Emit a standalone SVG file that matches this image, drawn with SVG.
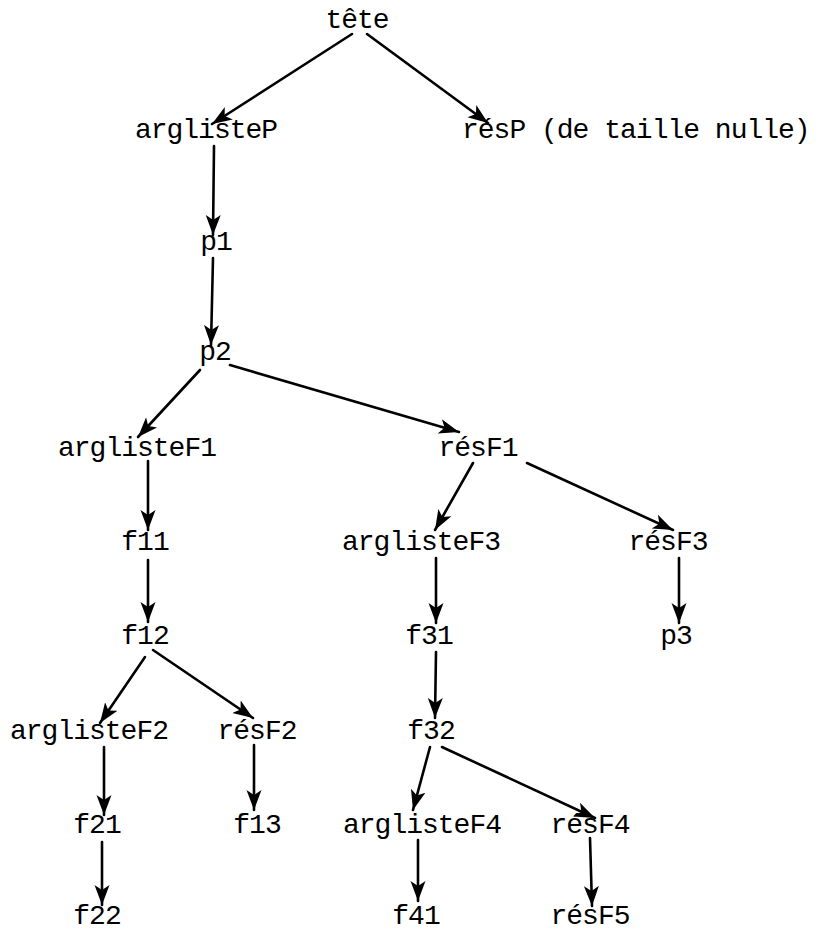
<svg xmlns="http://www.w3.org/2000/svg" width="818" height="932" viewBox="0 0 818 932">
<style>
.t{font-family:"Liberation Mono","Courier New",monospace;font-size:28px;letter-spacing:-1px;fill:#000;text-anchor:middle}
.s{text-anchor:start}
.e{fill:none;stroke:#000;stroke-width:2.6;stroke-linecap:round;marker-end:url(#ah)}
</style>
<defs>
<marker id="ah" markerUnits="userSpaceOnUse" markerWidth="22" markerHeight="18" viewBox="0 0 22 18" refX="20" refY="9" orient="auto">
<path d="M0,1.5 L20,9 L0,16.5 L5,9 z" fill="#000"/>
</marker>
</defs>
<rect width="818" height="932" fill="#fff"/>
<g id="connectors">
<line class="e" x1="352" y1="34" x2="212" y2="124"/>
<line class="e" x1="367" y1="34" x2="488" y2="123"/>
<line class="e" x1="214" y1="146" x2="213" y2="235"/>
<line class="e" x1="213" y1="258" x2="211" y2="345"/>
<line class="e" x1="200" y1="370" x2="138" y2="437"/>
<line class="e" x1="230" y1="365" x2="459" y2="432"/>
<line class="e" x1="148" y1="461" x2="148" y2="530"/>
<line class="e" x1="148" y1="560" x2="148" y2="622"/>
<line class="e" x1="473" y1="463" x2="435" y2="530"/>
<line class="e" x1="527" y1="463" x2="673" y2="530"/>
<line class="e" x1="436" y1="558" x2="436" y2="623"/>
<line class="e" x1="679" y1="558" x2="679" y2="623"/>
<line class="e" x1="436" y1="652" x2="435" y2="718"/>
<line class="e" x1="145" y1="657" x2="100" y2="723"/>
<line class="e" x1="153" y1="650" x2="253" y2="718"/>
<line class="e" x1="104" y1="747" x2="104" y2="815"/>
<line class="e" x1="102" y1="842" x2="102" y2="905"/>
<line class="e" x1="254" y1="745" x2="254" y2="810"/>
<line class="e" x1="430" y1="747" x2="413" y2="810"/>
<line class="e" x1="442" y1="747" x2="595" y2="818"/>
<line class="e" x1="418" y1="840" x2="418" y2="901"/>
<line class="e" x1="590" y1="838" x2="592" y2="906"/>
</g>
<g id="tete"><text class="t" x="357" y="28">tête</text></g>
<g id="arglisteP"><text class="t" x="206" y="138">arglisteP</text></g>
<g id="resP"><text class="t s" x="462" y="138">résP (de taille nulle)</text></g>
<g id="p1"><text class="t" x="216" y="250">p1</text></g>
<g id="p2"><text class="t" x="215" y="360">p2</text></g>
<g id="arglisteF1"><text class="t" x="137" y="456">arglisteF1</text></g>
<g id="resF1"><text class="t" x="478" y="456">résF1</text></g>
<g id="f11"><text class="t" x="145" y="550">f11</text></g>
<g id="arglisteF3"><text class="t" x="421" y="550">arglisteF3</text></g>
<g id="resF3"><text class="t" x="668" y="550">résF3</text></g>
<g id="f12"><text class="t" x="145" y="644">f12</text></g>
<g id="f31"><text class="t" x="429" y="644">f31</text></g>
<g id="p3"><text class="t" x="676" y="644">p3</text></g>
<g id="arglisteF2"><text class="t" x="89" y="739">arglisteF2</text></g>
<g id="resF2"><text class="t" x="257" y="739">résF2</text></g>
<g id="f32"><text class="t" x="431" y="739">f32</text></g>
<g id="f21"><text class="t" x="97" y="833">f21</text></g>
<g id="f13"><text class="t" x="257" y="833">f13</text></g>
<g id="arglisteF4"><text class="t" x="422" y="833">arglisteF4</text></g>
<g id="resF4"><text class="t" x="590" y="833">résF4</text></g>
<g id="f22"><text class="t" x="97" y="924">f22</text></g>
<g id="f41"><text class="t" x="416" y="924">f41</text></g>
<g id="resF5"><text class="t" x="590" y="924">résF5</text></g>
</svg>
